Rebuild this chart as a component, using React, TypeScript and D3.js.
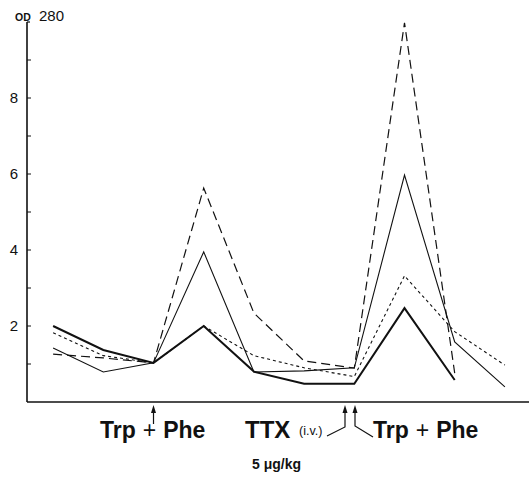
import React from "react";
import * as d3 from "d3";

const samples = [0, 1, 2, 3, 4, 5, 6, 7, 8, 9];
const thickSolid = [2.0, 1.37, 1.03, 2.0, 0.8, 0.48, 0.48, 2.47, 0.58];
const thinSolid = [1.42, 0.79, 1.03, 3.95, 0.79, 0.82, 0.9, 5.97, 1.58, 0.4];
const longDash = [1.26, 1.16, 1.03, 5.63, 2.34, 1.08, 0.89, 9.98, 0.76];
const shortDash = [1.82, 1.22, 1.03, 2.0, 1.22, 0.9, 0.67, 3.32, 1.85, 0.97];
const yTicks = [1, 2, 3, 4, 5, 6, 7, 8, 9];
const yLabels = [2, 4, 6, 8];

const W = 529;
const H = 480;

export default function App() {
  const x = d3.scaleLinear().domain([-0.52, 9.48]).range([27, 529]);
  const y = d3.scaleLinear().domain([0, 10]).range([402, 22]);
  const line = d3
    .line<number>()
    .x((_, i) => x(samples[i]))
    .y((d) => y(d));

  const font = "'Liberation Sans', Arial, sans-serif";
  const series = [
    { data: thickSolid, w: 2, dash: "" },
    { data: thinSolid, w: 1.1, dash: "" },
    { data: longDash, w: 1.2, dash: "9,5" },
    { data: shortDash, w: 1.1, dash: "3,3" },
  ];

  const arrowHead = (cx: number, tipY: number) =>
    `M${cx},${tipY} L${cx - 2.5},${tipY + 8} L${cx + 2.5},${tipY + 8} Z`;

  const a1 = x(2);
  const aL = 345;
  const aR = 355;

  const trpPhe = (
    <>
      <tspan fontWeight="bold">Trp</tspan>
      <tspan fontWeight="normal" dx={7}>+</tspan>
      <tspan fontWeight="bold" dx={7}>Phe</tspan>
    </>
  );

  return (
    <svg
      width={W}
      height={H}
      style={{ position: "absolute", left: 0, top: 0, background: "#fff" }}
    >
      <rect x={0} y={0} width={W} height={H} fill="#fff" />
      {/* y axis */}
      <line x1={27} x2={27} y1={y(10)} y2={y(0)} stroke="#111" strokeWidth={1.6} />
      <line x1={27} x2={30} y1={y(10)} y2={y(10)} stroke="#111" strokeWidth={1.2} />
      {yTicks.map((t) => (
        <line key={t} x1={27} x2={31} y1={y(t)} y2={y(t)} stroke="#111" strokeWidth={1} />
      ))}
      {yLabels.map((t) => (
        <text
          key={t}
          x={18}
          y={y(t)}
          dy="0.36em"
          textAnchor="end"
          fontFamily={font}
          fontSize={15}
          fill="#111"
        >
          {t}
        </text>
      ))}
      <text x={15} y={21} fontFamily={font} fontSize={10.5} fontWeight="bold" fill="#111">
        OD
      </text>
      <text x={39} y={21} fontFamily={font} fontSize={15} fill="#111">
        280
      </text>
      {/* x axis */}
      <line x1={27} x2={529} y1={y(0)} y2={y(0)} stroke="#111" strokeWidth={1.3} />

      {series.map((s, i) => (
        <path
          key={i}
          d={line(s.data) || ""}
          fill="none"
          stroke="#111"
          strokeWidth={s.w}
          strokeDasharray={s.dash || undefined}
          strokeLinejoin="miter"
        />
      ))}

      {/* arrows */}
      <line x1={a1} x2={a1} y1={424} y2={410} stroke="#111" strokeWidth={1.2} />
      <path d={arrowHead(a1, 405)} fill="#111" />
      <polyline points={`${aL},410 ${aL},427 ${aL - 18},436`} fill="none" stroke="#111" strokeWidth={1.2} />
      <path d={arrowHead(aL, 405)} fill="#111" />
      <polyline points={`${aR},410 ${aR},426 ${aR + 18},437`} fill="none" stroke="#111" strokeWidth={1.2} />
      <path d={arrowHead(aR, 405)} fill="#111" />

      <text x={100} y={438} fontFamily={font} fontSize={23} fill="#111">
        {trpPhe}
      </text>
      <text x={245} y={438} fontFamily={font} fontSize={24} fontWeight="bold" fill="#111">
        TTX
      </text>
      <text x={299} y={435} fontFamily={font} fontSize={12.5} fill="#111">
        (i.v.)
      </text>
      <text x={252} y={469} fontFamily={font} fontSize={14} fontWeight="bold" fill="#111">
        5 μg/kg
      </text>
      <text x={373} y={438} fontFamily={font} fontSize={23} fill="#111">
        {trpPhe}
      </text>
    </svg>
  );
}
